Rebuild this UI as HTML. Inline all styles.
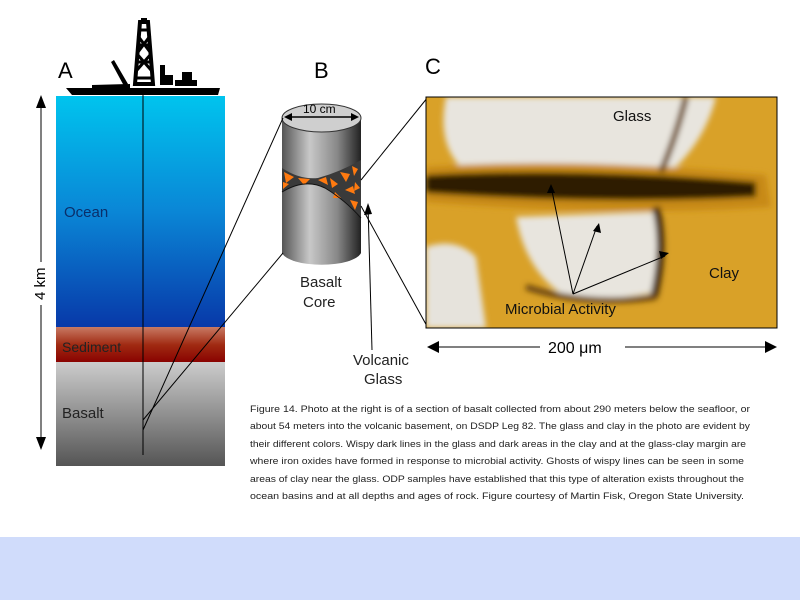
<!DOCTYPE html>
<html><head><meta charset="utf-8"><style>
html,body{margin:0;padding:0;background:#fff;width:800px;height:600px;overflow:hidden}
svg{display:block}
text{font-family:"Liberation Sans",sans-serif}
</style></head><body>
<svg width="800" height="600" viewBox="0 0 800 600">
<defs>
<linearGradient id="oc" x1="0" y1="0" x2="0" y2="1"><stop offset="0" stop-color="#00c4ee"/><stop offset="0.5" stop-color="#0a86d6"/><stop offset="1" stop-color="#0838a8"/></linearGradient>
<linearGradient id="sd" x1="0" y1="0" x2="0" y2="1"><stop offset="0" stop-color="#c87a64"/><stop offset="0.5" stop-color="#a02a12"/><stop offset="1" stop-color="#880000"/></linearGradient>
<linearGradient id="bs" x1="0" y1="0" x2="0" y2="1"><stop offset="0" stop-color="#cccccc"/><stop offset="1" stop-color="#555555"/></linearGradient>
<linearGradient id="cy" x1="0" y1="0" x2="1" y2="0"><stop offset="0" stop-color="#555"/><stop offset="0.35" stop-color="#c8c8c8"/><stop offset="0.7" stop-color="#888"/><stop offset="1" stop-color="#222"/></linearGradient>
<radialGradient id="gl1" cx="0.5" cy="0.5" r="0.5"><stop offset="0" stop-color="#f2f0ec"/><stop offset="0.75" stop-color="#dedad2"/><stop offset="1" stop-color="#d8c8a0" stop-opacity="0"/></radialGradient>
<filter id="bl"><feGaussianBlur stdDeviation="3"/></filter>
</defs>
<rect x="0" y="537" width="800" height="63" fill="#d0dcfb"/>
<!-- column A -->
<rect x="56" y="96" width="169" height="232" fill="url(#oc)"/>
<rect x="56" y="327" width="169" height="36" fill="url(#sd)"/>
<rect x="56" y="362" width="169" height="104" fill="url(#bs)"/>
<line x1="143" y1="90" x2="143" y2="455" stroke="#000" stroke-width="1"/>
<!-- ship -->
<path d="M66,88 L220,88 L218,95 L72,95 Z" fill="#000"/>
<path d="M92,88 L92,85 L130,84 L130,88Z" fill="#000"/>
<path d="M111,62 L114,60 L128,84 L124,86Z" fill="#000"/>
<path d="M135,84 L140,22 L148,22 L153,84Z" fill="none" stroke="#000" stroke-width="4"/>
<path d="M138,36 L150,52 M150,36 L138,52 M137,54 L151,70 M151,54 L137,70 M139,30 L149,30 M138,45 L150,45 M137,62 L151,62 M136,78 L152,78" stroke="#000" stroke-width="3"/>
<rect x="141" y="18" width="6" height="5" fill="#000"/>
<rect x="160" y="65" width="5" height="20" fill="#000"/><rect x="163" y="75" width="10" height="10" fill="#000"/>
<rect x="182" y="72" width="10" height="14" fill="#000"/><rect x="175" y="80" width="22" height="6" fill="#000"/>
<text x="58" y="78" font-size="22">A</text>
<text x="314" y="78" font-size="22">B</text>
<text x="425" y="74" font-size="22">C</text>
<!-- 4km arrow -->
<line x1="41" y1="105" x2="41" y2="262" stroke="#000"/><line x1="41" y1="305" x2="41" y2="440" stroke="#000"/>
<path d="M36,108 L41,95 L46,108Z M36,437 L41,450 L46,437Z" fill="#000"/>
<text transform="translate(45,300) rotate(-90)" font-size="15">4 km</text>
<text x="64" y="217" font-size="15" fill="#0a2f6a">Ocean</text>
<text x="62" y="352" font-size="14" fill="#222">Sediment</text>
<text x="62" y="418" font-size="15" fill="#222">Basalt</text>
<!-- cylinder -->
<path d="M282,118 L282,253 A40,14 0 0 0 361,253 L361,118Z" fill="url(#cy)"/>
<path d="M282,168 Q300,180 318,178 Q340,172 361,160 L361,218 Q345,200 325,188 Q305,178 282,192Z" fill="#3a3a3a"/>
<path d="M284,172 l10,5 -8,6Z M298,178 l12,1 -6,6Z M318,180 l8,-3 2,8Z M330,178 l8,6 -6,4Z M340,172 l10,2 -4,8Z M345,190 l8,-4 2,8Z M352,166 l6,3 -4,7Z M335,192 l6,6 -8,0Z M283,182 l6,2 -6,5Z M350,200 l8,2 -3,8Z M355,182 l5,6 -6,3Z" fill="#ff7a10"/>
<path d="M282,192 Q305,178 325,188 Q345,200 361,218" fill="none" stroke="#111" stroke-width="1"/>
<ellipse cx="321.5" cy="118" rx="39.5" ry="14" fill="#cfcfcf" stroke="#333"/>
<line x1="288" y1="117" x2="355" y2="117" stroke="#000" stroke-width="1.5"/>
<path d="M284,117 l8,-4 0,8Z M359,117 l-8,-4 0,8Z" fill="#000"/>
<text x="303" y="113" font-size="12">10 cm</text>
<text x="300" y="287" font-size="15" fill="#222">Basalt</text>
<text x="303" y="307" font-size="15" fill="#222">Core</text>
<text x="353" y="365" font-size="15" fill="#222">Volcanic</text>
<text x="364" y="384" font-size="15" fill="#222">Glass</text>
<path d="M372,350 L368,205" stroke="#000" fill="none"/>
<path d="M364,215 l4,-12 4,11Z" fill="#000"/>
<!-- connectors -->
<line x1="143" y1="430" x2="283" y2="118" stroke="#000"/>
<line x1="143" y1="420" x2="283" y2="253" stroke="#000"/>
<line x1="361" y1="180" x2="428" y2="97" stroke="#000"/>
<line x1="361" y1="206" x2="428" y2="328" stroke="#000"/>
<!-- photo -->
<svg x="426" y="97" width="351" height="231" viewBox="0 0 351 231">
<rect width="351" height="231" fill="#d9a128"/>
<g filter="url(#bl)">
<path d="M20,0 L290,0 Q280,40 250,70 L40,75 Q10,50 20,0Z" fill="#e8e5de"/>
<path d="M90,120 L230,115 Q245,150 230,195 Q180,205 140,200 Q100,175 90,120Z" fill="#e8e5de"/>
<path d="M0,150 Q30,140 50,160 L60,231 L0,231Z" fill="#e6e3dc"/>
<path d="M0,70 Q150,60 340,78 L345,110 Q200,120 0,105Z" fill="#c88a18"/>
<path d="M0,78 Q150,70 330,85 L330,100 Q180,108 0,96Z" fill="#2e1a06"/>
<path d="M230,110 Q240,150 228,200" stroke="#4a2e08" stroke-width="8" fill="none"/>
<path d="M100,190 Q160,210 230,200" stroke="#6a4410" stroke-width="6" fill="none"/>
<path d="M260,0 Q250,40 235,75" stroke="#6a4410" stroke-width="6" fill="none"/>
</g>
</svg>
<rect x="426" y="97" width="351" height="231" fill="none" stroke="#000"/>
<text x="613" y="121" font-size="15" fill="#111">Glass</text>
<text x="709" y="278" font-size="15" fill="#111">Clay</text>
<text x="505" y="314" font-size="15" fill="#111">Microbial Activity</text>
<path d="M573,294 L551,186 M573,294 L597,226 M573,294 L665,256" stroke="#000" fill="none"/>
<path d="M547,193 l4,-9 4,9Z M593,231 l6,-8 2,10Z M659,251 l10,2 -8,6Z" fill="#000"/>
<!-- scale -->
<line x1="432" y1="347" x2="540" y2="347" stroke="#000"/><line x1="625" y1="347" x2="770" y2="347" stroke="#000"/>
<path d="M427,347 l12,-6 0,12Z M777,347 l-12,-6 0,12Z" fill="#000"/>
<text x="548" y="353" font-size="16">200 μm</text>
<!-- caption -->
<g font-size="9" fill="#222">
<text x="250" y="412" textLength="500" lengthAdjust="spacingAndGlyphs">Figure 14.  Photo at the right is of a section of basalt collected from about 290 meters below the seafloor, or</text>
<text x="250" y="429" textLength="500" lengthAdjust="spacingAndGlyphs">about 54 meters into the volcanic basement, on DSDP Leg 82.  The glass and clay in the photo are evident by</text>
<text x="250" y="447" textLength="496" lengthAdjust="spacingAndGlyphs">their different colors.  Wispy dark lines in the glass and dark areas in the clay and at the glass-clay margin are</text>
<text x="250" y="464" textLength="494" lengthAdjust="spacingAndGlyphs">where iron oxides have formed in response to microbial activity.  Ghosts of wispy lines can be seen in some</text>
<text x="250" y="482" textLength="494" lengthAdjust="spacingAndGlyphs">areas of clay near the glass.  ODP samples have established that this type of alteration exists throughout the</text>
<text x="250" y="499" textLength="494" lengthAdjust="spacingAndGlyphs">ocean basins and at all depths and ages of rock.  Figure courtesy of Martin Fisk, Oregon State University.</text>
</g>
</svg>
</body></html>
